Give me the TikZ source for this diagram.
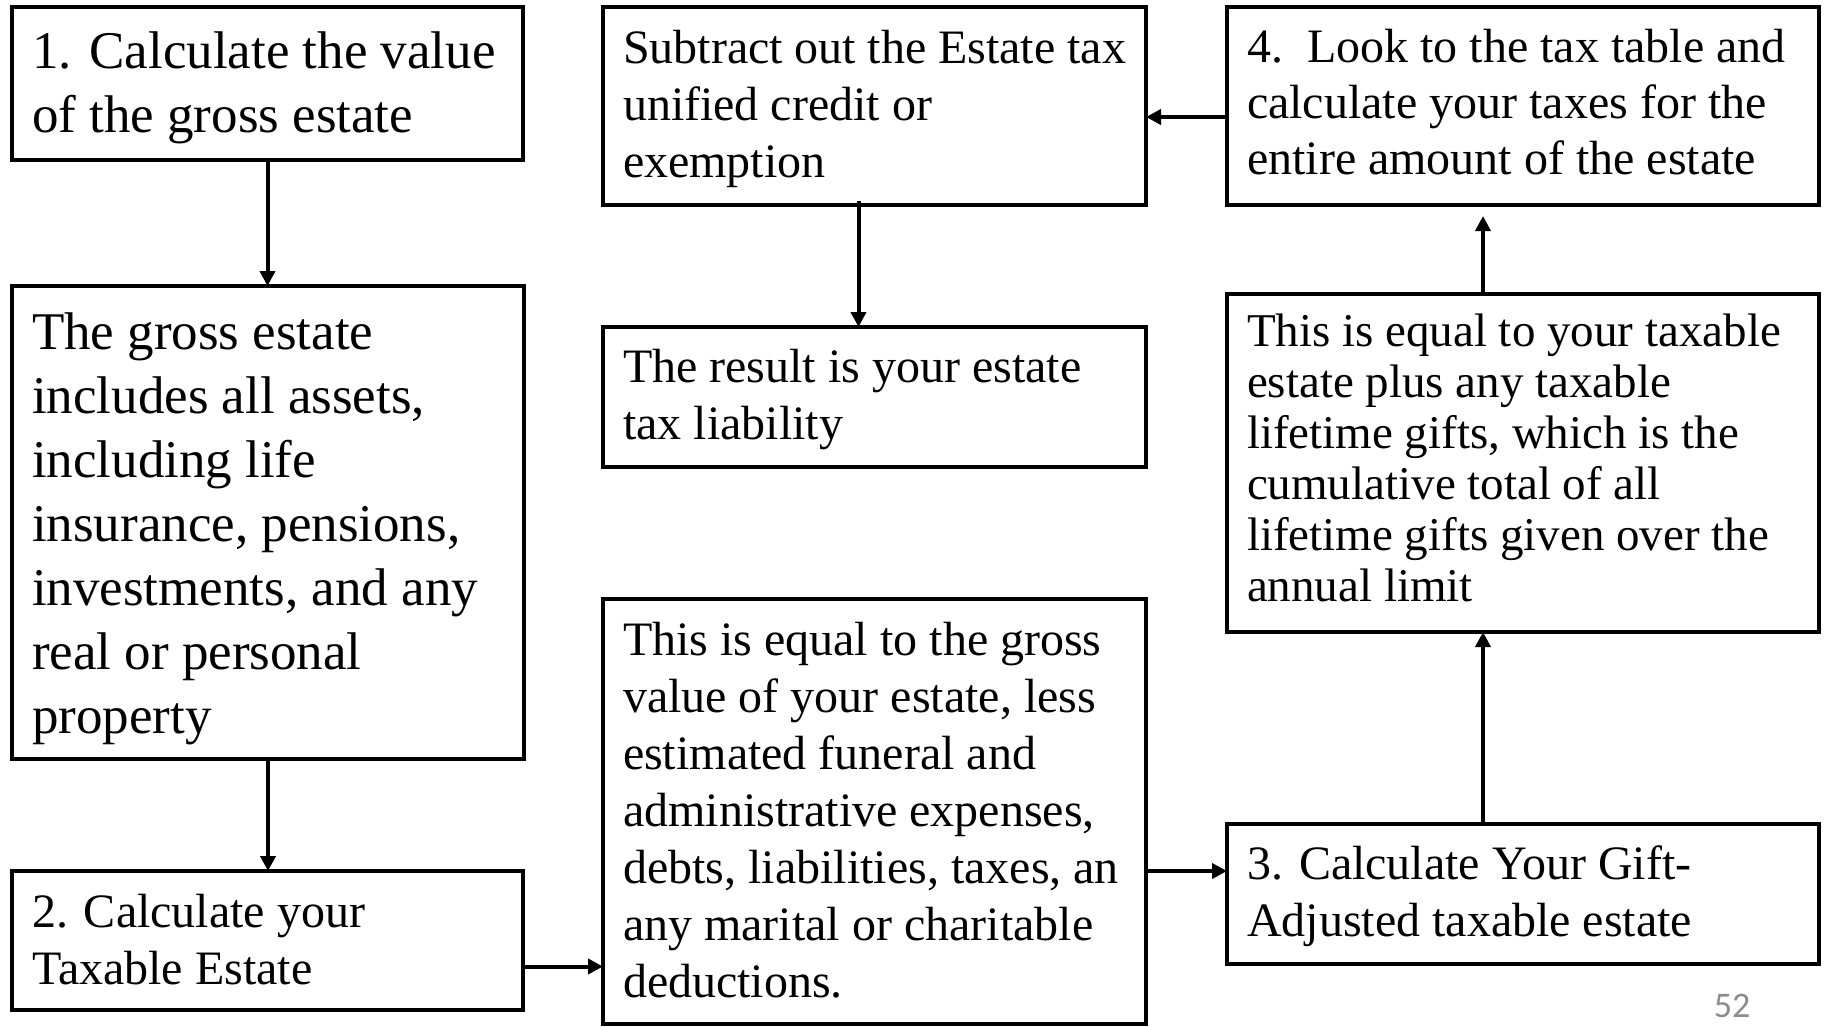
\documentclass[tikz,border=0pt]{standalone}
\usepackage{fontspec}
\setmainfont{Liberation Serif}
\newfontfamily\pnumfont{Carlito}
\usetikzlibrary{arrows.meta}
% #1 font size, #2 baselineskip, #3 hsize, #4 height, #5 first baseline offset, #6 text
\newcommand\boxtxt[6]{\vbox to #4pt{\hsize=#3pt\relax\fontsize{#1pt}{#2pt}\selectfont\raggedright\parindent=0pt\relax
\vskip\dimexpr #5pt - #1pt\relax\leavevmode\rule{0pt}{#1pt}#6\par\vss}}
\tikzset{
  stepbox/.style={draw=black, line width=4.4pt, fill=white, anchor=north west, inner xsep=20pt, inner ysep=0pt, outer sep=0pt},
  arr/.style={line width=4pt, -{Triangle[length=15pt,width=15pt]}},
  pnum/.style={text=black!45, font=\pnumfont\fontsize{36pt}{40pt}\selectfont, inner sep=0pt}
}
\begin{document}
\begin{tikzpicture}[x=1pt,y=-1pt]
\useasboundingbox (0,0) rectangle (1825,1026);
\fill[white] (0,0) rectangle (1825,1026);

\node[stepbox] (b1) at (12,7) {\boxtxt{53}{64}{471}{153}{61}{1. Calculate the value\\of the gross estate}};
\node[stepbox] (gross) at (12,286) {\boxtxt{53}{64}{472}{473}{63}{The gross estate\\includes all assets,\\including life\\insurance, pensions,\\investments, and any\\real or personal\\property}};
\node[stepbox] (b2) at (12,871) {\boxtxt{48}{57}{471}{139}{56}{2. Calculate your\\Taxable Estate}};

\node[stepbox] (sub) at (603,7) {\boxtxt{48}{57}{503}{198}{56}{Subtract out the Estate tax\\unified credit or\\exemption}};
\node[stepbox] (res) at (603,327) {\boxtxt{48}{57}{503}{140}{55}{The result is your estate\\tax liability}};
\node[stepbox] (mid) at (603,599) {\boxtxt{48}{57}{503}{425}{56}{This is equal to the gross\\value of your estate, less\\estimated funeral and\\administrative expenses,\\debts, liabilities, taxes, an\\any marital or charitable\\deductions.}};

\node[stepbox] (b4) at (1227,7) {\boxtxt{48}{56}{552}{198}{55}{4.\ \ Look to the tax table and\\calculate your taxes for the\\entire amount of the estate}};
\node[stepbox] (req) at (1227,294) {\boxtxt{47}{51}{552}{338}{52}{This is equal to your taxable\\estate plus any taxable\\lifetime gifts, which is the\\cumulative total of all\\lifetime gifts given over the\\annual limit}};
\node[stepbox] (b3) at (1227,824) {\boxtxt{48}{57}{552}{140}{55}{3. Calculate Your Gift-\\Adjusted taxable estate}};

\node[pnum] (pg) at (1732,1006) {52};

\draw[arr] (b1.south) -- (b1.south |- gross.north);
\draw[arr] (gross.south) -- (gross.south |- b2.north);
\draw[arr] ([yshift=-26pt]b2.east) -- ([yshift=-26pt]b2.east -| mid.west);
\draw[arr] ([yshift=23pt]b3.west -| mid.east) -- ([yshift=23pt]b3.west);
\draw[arr] ([xshift=-40pt]b3.north) -- ([xshift=-40pt]b3.north |- req.south);
\draw[arr, shorten >=11pt] ([xshift=-40pt]req.north) -- ([xshift=-40pt]req.north |- b4.south);
\draw[arr] ([yshift=-11pt]b4.west) -- ([yshift=-11pt]b4.west -| sub.east);
\draw[arr] ([xshift=-16pt,yshift=4pt]sub.south) -- ([xshift=-16pt]sub.south |- res.north);
\end{tikzpicture}
\end{document}
